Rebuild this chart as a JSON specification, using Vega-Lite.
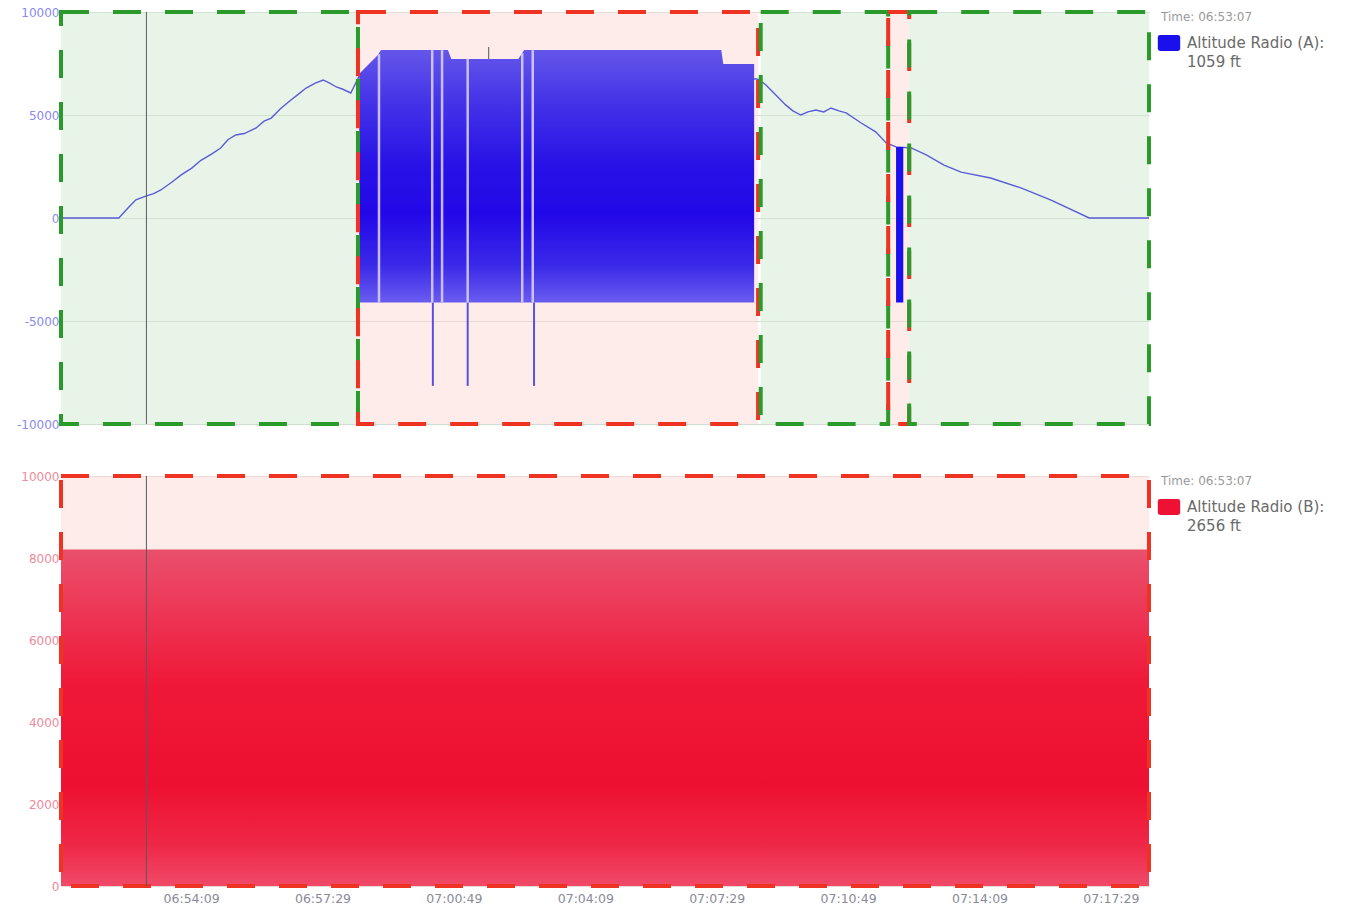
{
  "$schema": "https://vega.github.io/schema/vega-lite/v6.json",
  "background": "white",
  "padding": {"left": 16, "top": 6, "right": 0, "bottom": 0},
  "bounds": "flush",
  "spacing": 52,
  "config": {
    "view": {"stroke": null},
    "axis": {"labelFont": "DejaVu Sans", "title": null},
    "legend": {
      "orient": "right",
      "offset": 12,
      "padding": 0,
      "titleFont": "DejaVu Sans",
      "titleFontSize": 12,
      "titleFontWeight": "normal",
      "titleColor": "#9a9a9a",
      "titlePadding": 11,
      "titleLimit": 300,
      "labelFont": "DejaVu Sans",
      "labelFontSize": 15,
      "labelColor": "#6a6a6a",
      "labelOffset": 10,
      "labelLimit": 300,
      "symbolType": "M-1.4,-0.7 Q-1.4,-1 -1.1,-1 L1.1,-1 Q1.4,-1 1.4,-0.7 L1.4,0.7 Q1.4,1 1.1,1 L-1.1,1 Q-1.4,1 -1.4,0.7 Z",
      "symbolSize": 256,
      "symbolStrokeWidth": 0,
      "symbolOpacity": 1,
      "rowPadding": 3
    }
  },
  "resolve": {"scale": {"color": "independent"}, "legend": {"color": "independent"}},
  "datasets": {
    "lineA": [
      {"t": "2024-01-01T06:50:51", "v": 0},
      {"t": "2024-01-01T06:52:19", "v": 0},
      {"t": "2024-01-01T06:52:34", "v": 520},
      {"t": "2024-01-01T06:52:45", "v": 880},
      {"t": "2024-01-01T06:53:00", "v": 1060},
      {"t": "2024-01-01T06:53:12", "v": 1180},
      {"t": "2024-01-01T06:53:23", "v": 1360},
      {"t": "2024-01-01T06:53:40", "v": 1750},
      {"t": "2024-01-01T06:53:54", "v": 2090},
      {"t": "2024-01-01T06:54:10", "v": 2420},
      {"t": "2024-01-01T06:54:24", "v": 2800},
      {"t": "2024-01-01T06:54:40", "v": 3100},
      {"t": "2024-01-01T06:54:54", "v": 3400},
      {"t": "2024-01-01T06:55:05", "v": 3800},
      {"t": "2024-01-01T06:55:17", "v": 4030},
      {"t": "2024-01-01T06:55:30", "v": 4100},
      {"t": "2024-01-01T06:55:48", "v": 4370},
      {"t": "2024-01-01T06:56:00", "v": 4700},
      {"t": "2024-01-01T06:56:11", "v": 4850},
      {"t": "2024-01-01T06:56:25", "v": 5300},
      {"t": "2024-01-01T06:56:41", "v": 5730},
      {"t": "2024-01-01T06:56:52", "v": 6000},
      {"t": "2024-01-01T06:57:04", "v": 6310},
      {"t": "2024-01-01T06:57:18", "v": 6550},
      {"t": "2024-01-01T06:57:30", "v": 6700},
      {"t": "2024-01-01T06:57:40", "v": 6550},
      {"t": "2024-01-01T06:57:50", "v": 6360},
      {"t": "2024-01-01T06:58:00", "v": 6250},
      {"t": "2024-01-01T06:58:12", "v": 6070},
      {"t": "2024-01-01T06:58:25", "v": 6900},
      {"t": "2024-01-01T07:08:30", "v": 6750},
      {"t": "2024-01-01T07:08:34", "v": 6700},
      {"t": "2024-01-01T07:08:44", "v": 6460},
      {"t": "2024-01-01T07:08:59", "v": 5970},
      {"t": "2024-01-01T07:09:14", "v": 5490},
      {"t": "2024-01-01T07:09:25", "v": 5200},
      {"t": "2024-01-01T07:09:37", "v": 5000},
      {"t": "2024-01-01T07:09:48", "v": 5150},
      {"t": "2024-01-01T07:10:00", "v": 5240},
      {"t": "2024-01-01T07:10:12", "v": 5150},
      {"t": "2024-01-01T07:10:23", "v": 5340},
      {"t": "2024-01-01T07:10:35", "v": 5200},
      {"t": "2024-01-01T07:10:46", "v": 5100},
      {"t": "2024-01-01T07:11:09", "v": 4610},
      {"t": "2024-01-01T07:11:31", "v": 4180},
      {"t": "2024-01-01T07:11:47", "v": 3640},
      {"t": "2024-01-01T07:12:02", "v": 3450},
      {"t": "2024-01-01T07:12:25", "v": 3400},
      {"t": "2024-01-01T07:12:48", "v": 3060},
      {"t": "2024-01-01T07:13:15", "v": 2570},
      {"t": "2024-01-01T07:13:41", "v": 2230},
      {"t": "2024-01-01T07:14:26", "v": 1940},
      {"t": "2024-01-01T07:15:12", "v": 1460},
      {"t": "2024-01-01T07:15:58", "v": 870},
      {"t": "2024-01-01T07:16:56", "v": 0},
      {"t": "2024-01-01T07:18:27", "v": 0}
    ],
    "blockA": [
      {"t": "2024-01-01T06:58:25", "hi": 7000, "lo": -4100},
      {"t": "2024-01-01T06:58:53", "hi": 7900, "lo": -4100},
      {"t": "2024-01-01T06:58:58", "hi": 8150, "lo": -4100},
      {"t": "2024-01-01T07:00:40", "hi": 8150, "lo": -4100},
      {"t": "2024-01-01T07:00:45", "hi": 7720, "lo": -4100},
      {"t": "2024-01-01T07:02:27", "hi": 7720, "lo": -4100},
      {"t": "2024-01-01T07:02:36", "hi": 8150, "lo": -4100},
      {"t": "2024-01-01T07:07:36", "hi": 8150, "lo": -4100},
      {"t": "2024-01-01T07:07:39", "hi": 7480, "lo": -4100},
      {"t": "2024-01-01T07:08:26", "hi": 7480, "lo": -4100}
    ],
    "barA": [
      {"t": "2024-01-01T07:12:02", "hi": 3450, "lo": -4100, "series": "Altitude Radio (A):"},
      {"t": "2024-01-01T07:12:13", "hi": 3450, "lo": -4100, "series": "Altitude Radio (A):"}
    ],
    "gapsA": [
      {"t": "2024-01-01T06:58:55", "hi": 7950, "lo": -4100},
      {"t": "2024-01-01T07:00:16", "hi": 8150, "lo": -4100},
      {"t": "2024-01-01T07:00:31", "hi": 8150, "lo": -4100},
      {"t": "2024-01-01T07:01:10", "hi": 7720, "lo": -4100},
      {"t": "2024-01-01T07:02:33", "hi": 8000, "lo": -4100},
      {"t": "2024-01-01T07:02:49", "hi": 8150, "lo": -4100}
    ],
    "spikesA": [
      {"t": "2024-01-01T07:00:17", "hi": -4100, "lo": -8150},
      {"t": "2024-01-01T07:01:10", "hi": -4100, "lo": -8150},
      {"t": "2024-01-01T07:02:51", "hi": -4100, "lo": -8150}
    ],
    "ticksA": [
      {"t": "2024-01-01T07:01:42", "hi": 8300, "lo": 7720}
    ],
    "regionsTop": [
      {"start": "2024-01-01T06:50:51", "end": "2024-01-01T06:58:23", "kind": "green"},
      {"start": "2024-01-01T06:58:23", "end": "2024-01-01T07:08:32", "kind": "red"},
      {"start": "2024-01-01T07:08:36", "end": "2024-01-01T07:11:50", "kind": "green"},
      {"start": "2024-01-01T07:11:50", "end": "2024-01-01T07:12:22", "kind": "red"},
      {"start": "2024-01-01T07:12:22", "end": "2024-01-01T07:18:27", "kind": "green"}
    ],
    "cursor": [
      {"t": "2024-01-01T06:53:01"}
    ],
    "blockB": [
      {"t": "2024-01-01T06:50:51", "hi": 8200, "lo": 0, "series": "Altitude Radio (B):"},
      {"t": "2024-01-01T07:18:27", "hi": 8200, "lo": 0, "series": "Altitude Radio (B):"}
    ],
    "regionsBottom": [
      {"start": "2024-01-01T06:50:51", "end": "2024-01-01T07:18:27", "kind": "red"}
    ]
  },
  "vconcat": [
    {
      "width": 1088,
      "height": 412,
      "encoding": {
        "x": {"type": "temporal", "axis": null, "scale": {"domain": [{"year": 2024, "month": 1, "date": 1, "hours": 6, "minutes": 50, "seconds": 51}, {"year": 2024, "month": 1, "date": 1, "hours": 7, "minutes": 18, "seconds": 27}], "nice": false}},
        "y": {"type": "quantitative", "scale": {"domain": [-10000, 10000], "nice": false, "zero": false},
          "axis": {"title": null, "values": [-10000, -5000, 0, 5000, 10000], "labelExpr": "'' + datum.value", "grid": true, "gridColor": "#d3dcd3", "ticks": false, "domain": false, "labelColor": "#8a8af0", "labelFontSize": 12, "labelPadding": 2}}
      },
      "layer": [
        {
          "data": {"name": "regionsTop"},
          "mark": {"type": "rect", "fillOpacity": 0.5, "strokeWidth": 0},
          "encoding": {
            "x": {"field": "start"},
            "x2": {"field": "end"},
            "y": {"datum": 10000},
            "y2": {"datum": -10000},
            "fill": {"field": "kind", "type": "nominal", "scale": {"domain": ["green", "red"], "range": ["#d3e9d1", "#fbd9d6"]}, "legend": null}
          }
        },
        {
          "data": {"name": "lineA"},
          "mark": {"type": "line", "color": "#5b5bd8", "strokeWidth": 1.4},
          "encoding": {
            "x": {"field": "t"},
            "y": {"field": "v"}
          }
        },
        {
          "data": {"name": "spikesA"},
          "mark": {"type": "rule", "color": "#5a50e0", "strokeWidth": 2},
          "encoding": {
            "x": {"field": "t"},
            "y": {"field": "hi"},
            "y2": {"field": "lo"}
          }
        },
        {
          "data": {"name": "blockA"},
          "mark": {"type": "area", "interpolate": "linear", "color": {"gradient": "linear", "x1": 0, "y1": 0, "x2": 0, "y2": 1, "stops": [
            {"offset": 0, "color": "#6456ea"},
            {"offset": 0.2, "color": "#4534e8"},
            {"offset": 0.45, "color": "#2812e6"},
            {"offset": 0.65, "color": "#2208e8"},
            {"offset": 0.85, "color": "#3a28e8"},
            {"offset": 1, "color": "#6a5cf0"}]}},
          "encoding": {
            "x": {"field": "t"},
            "y": {"field": "hi"},
            "y2": {"field": "lo"}
          }
        },
        {
          "data": {"name": "barA"},
          "mark": {"type": "area", "interpolate": "linear"},
          "encoding": {
            "x": {"field": "t"},
            "y": {"field": "hi"},
            "y2": {"field": "lo"},
            "color": {"field": "series", "type": "nominal", "scale": {"domain": ["Altitude Radio (A):", "1059 ft"], "range": ["#1a10ee", "#ffffff"]},
              "legend": {"title": "Time: 06:53:07"}}
          }
        },
        {
          "data": {"name": "gapsA"},
          "mark": {"type": "rule", "color": "#ddd6fb", "strokeWidth": 2.5, "opacity": 0.85},
          "encoding": {
            "x": {"field": "t"},
            "y": {"field": "hi"},
            "y2": {"field": "lo"}
          }
        },
        {
          "data": {"name": "ticksA"},
          "mark": {"type": "rule", "color": "#555555", "strokeWidth": 1},
          "encoding": {
            "x": {"field": "t"},
            "y": {"field": "hi"},
            "y2": {"field": "lo"}
          }
        },
        {
          "data": {"name": "regionsTop"},
          "mark": {"type": "rect", "filled": false, "strokeWidth": 4, "strokeDash": [28, 24]},
          "encoding": {
            "x": {"field": "start"},
            "x2": {"field": "end"},
            "y": {"datum": 10000},
            "y2": {"datum": -10000},
            "stroke": {"field": "kind", "type": "nominal", "scale": {"domain": ["green", "red"], "range": ["#2a9a2a", "#ee3322"]}, "legend": null}
          }
        },
        {
          "data": {"name": "cursor"},
          "mark": {"type": "rule", "color": "#555a66", "strokeWidth": 1},
          "encoding": {
            "x": {"field": "t"},
            "y": null
          }
        }
      ]
    },
    {
      "width": 1088,
      "height": 410,
      "encoding": {
        "x": {"type": "temporal", "scale": {"domain": [{"year": 2024, "month": 1, "date": 1, "hours": 6, "minutes": 50, "seconds": 51}, {"year": 2024, "month": 1, "date": 1, "hours": 7, "minutes": 18, "seconds": 27}], "nice": false},
          "axis": {"title": null, "format": "%H:%M:%S", "grid": false, "ticks": false, "domain": false, "labelColor": "#8a8a9a", "labelFontSize": 12.5, "labelPadding": 6,
            "values": [
              {"year": 2024, "month": 1, "date": 1, "hours": 6, "minutes": 54, "seconds": 9},
              {"year": 2024, "month": 1, "date": 1, "hours": 6, "minutes": 57, "seconds": 29},
              {"year": 2024, "month": 1, "date": 1, "hours": 7, "minutes": 0, "seconds": 49},
              {"year": 2024, "month": 1, "date": 1, "hours": 7, "minutes": 4, "seconds": 9},
              {"year": 2024, "month": 1, "date": 1, "hours": 7, "minutes": 7, "seconds": 29},
              {"year": 2024, "month": 1, "date": 1, "hours": 7, "minutes": 10, "seconds": 49},
              {"year": 2024, "month": 1, "date": 1, "hours": 7, "minutes": 14, "seconds": 9},
              {"year": 2024, "month": 1, "date": 1, "hours": 7, "minutes": 17, "seconds": 29}
            ]}},
        "y": {"type": "quantitative", "scale": {"domain": [0, 10000], "nice": false},
          "axis": {"title": null, "values": [0, 2000, 4000, 6000, 8000, 10000], "labelExpr": "'' + datum.value", "grid": true, "gridColor": "#ead6d6", "ticks": false, "domain": false, "labelColor": "#f08a9a", "labelFontSize": 12, "labelPadding": 2}}
      },
      "layer": [
        {
          "data": {"name": "regionsBottom"},
          "mark": {"type": "rect", "fillOpacity": 0.5, "strokeWidth": 0},
          "encoding": {
            "x": {"field": "start"},
            "x2": {"field": "end"},
            "y": {"datum": 10000},
            "y2": {"datum": 0},
            "fill": {"field": "kind", "type": "nominal", "scale": {"domain": ["red"], "range": ["#fbd9d6"]}, "legend": null}
          }
        },
        {
          "data": {"name": "blockB"},
          "mark": {"type": "area", "interpolate": "linear"},
          "encoding": {
            "x": {"field": "t"},
            "y": {"field": "hi"},
            "y2": {"field": "lo"},
            "color": {"field": "series", "type": "nominal", "scale": {"domain": ["Altitude Radio (B):", "2656 ft"], "range": ["#ee1133", "#ffffff"]},
              "legend": {"title": "Time: 06:53:07"}}
          }
        },
        {
          "data": {"name": "blockB"},
          "mark": {"type": "area", "interpolate": "linear", "color": {"gradient": "linear", "x1": 0, "y1": 0, "x2": 0, "y2": 1, "stops": [
            {"offset": 0, "color": "#e9506c"},
            {"offset": 0.2, "color": "#ee3454"},
            {"offset": 0.4, "color": "#ef1838"},
            {"offset": 0.7, "color": "#ee1030"},
            {"offset": 0.88, "color": "#ef2848"},
            {"offset": 1, "color": "#f04a68"}]}},
          "encoding": {
            "x": {"field": "t"},
            "y": {"field": "hi"},
            "y2": {"field": "lo"}
          }
        },
        {
          "data": {"name": "regionsBottom"},
          "mark": {"type": "rect", "filled": false, "strokeWidth": 4, "strokeDash": [28, 24]},
          "encoding": {
            "x": {"field": "start"},
            "x2": {"field": "end"},
            "y": {"datum": 10000},
            "y2": {"datum": 0},
            "stroke": {"field": "kind", "type": "nominal", "scale": {"domain": ["red"], "range": ["#ee3322"]}, "legend": null}
          }
        },
        {
          "data": {"name": "cursor"},
          "mark": {"type": "rule", "color": "#555a66", "strokeWidth": 1},
          "encoding": {
            "x": {"field": "t"},
            "y": null
          }
        }
      ]
    }
  ]
}
